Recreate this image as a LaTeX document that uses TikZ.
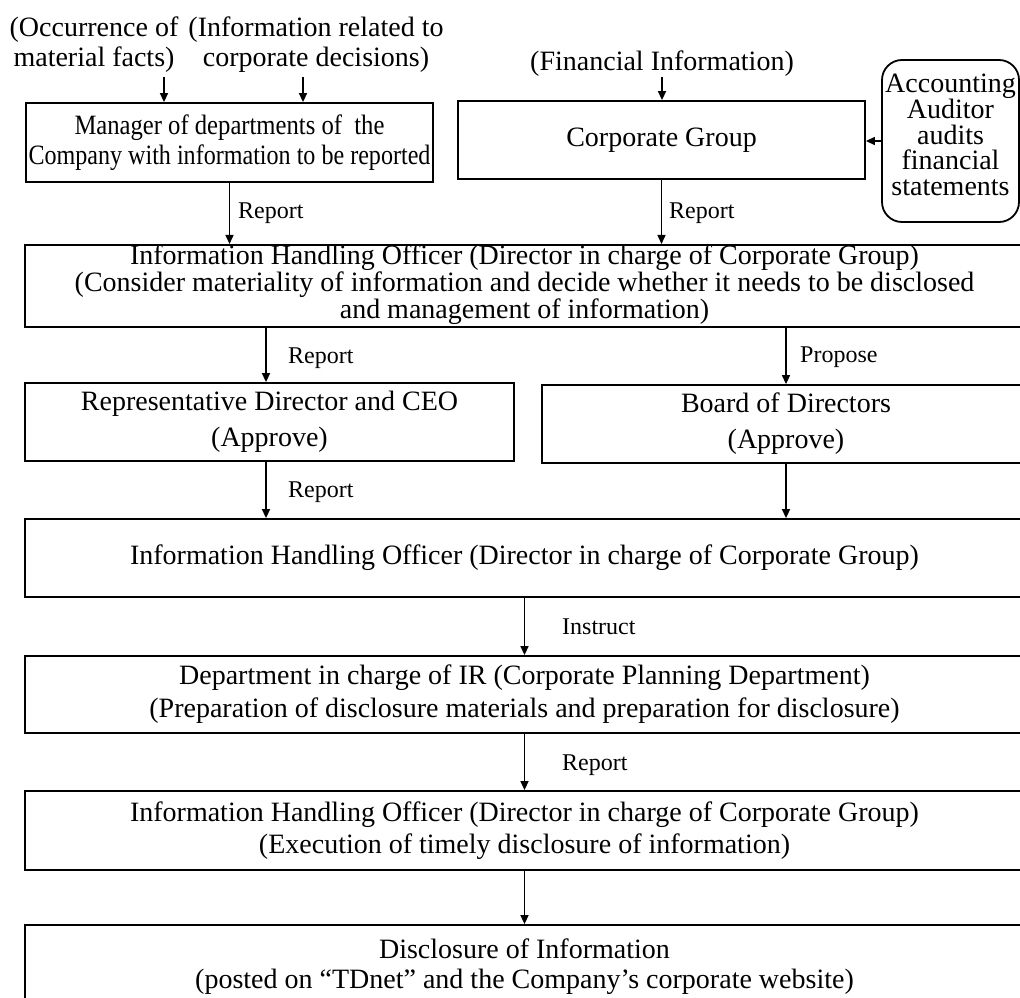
\documentclass[tikz,border=0pt]{standalone}
\usepackage{fontspec}
\setmainfont{Liberation Serif}
\usepackage{graphicx}
\usetikzlibrary{arrows.meta}
\tikzset{
  bx/.style={draw, line width=1.8pt, inner sep=0pt, align=center, font=\fontsize{28}{30}\selectfont},
  arr/.style={line width=1.5pt, -{Triangle[length=9pt,width=8pt]}},
  lbl/.style={font=\fontsize{24}{26}\selectfont, inner sep=0pt, anchor=west},
  txt/.style={align=center, inner sep=0pt, font=\fontsize{28}{30}\selectfont},
}
\begin{document}
\begin{tikzpicture}[x=1pt,y=-1pt]
\useasboundingbox (0,0) rectangle (1020,998);
\clip (0,0) rectangle (1020,998);
% top texts
\node[txt] (occ) at (94,45) {(Occurrence of\\material facts)};
\node[txt] (inf) at (316,45) {(Information related to\\corporate decisions)};
\node[txt] (fin) at (662,64) {(Financial Information)};
\coordinate (a1) at (164,77);
\coordinate (a2) at (303,77);
\coordinate (c3) at (266,0);
% boxes
\node[bx, minimum width=407pt, minimum height=79pt] (mgr) at (229.5,142.5)
  {\scalebox{0.88}[1]{Manager of departments of\ \ the}\\\scalebox{0.86}[1]{Company with information to be reported}};
\node[bx, minimum width=407pt, minimum height=78pt] (corp) at (661.5,140) {Corporate Group};
\node[bx, rounded corners=20pt, minimum width=137pt, minimum height=162pt,
      font=\fontsize{28}{25.7}\selectfont] (acct) at (950.5,141)
  {Accounting\\Auditor\\audits\\financial\\statements\rule[-12pt]{0pt}{0pt}};
\node[bx, minimum width=999pt, minimum height=78pt, font=\fontsize{28}{23.5}\selectfont] (iho1) at (524.5,286)
  {Information Handling Officer (Director in charge of Corporate Group)\\
   (Consider materiality of information and decide whether it needs to be disclosed\\
   and management of information)\rule[-9pt]{0pt}{0pt}};
\node[bx, minimum width=489pt, minimum height=78pt, font=\fontsize{28}{36}\selectfont] (rep) at (269.5,422)
  {Representative Director and CEO\\(Approve)};
\node[bx, minimum width=488pt, minimum height=78pt, font=\fontsize{28}{36}\selectfont] (board) at (786,424)
  {Board of Directors\\(Approve)};
\node[bx, minimum width=999pt, minimum height=78pt] (iho2) at (524.5,558)
  {Information Handling Officer (Director in charge of Corporate Group)};
\node[bx, minimum width=999pt, minimum height=77pt, font=\fontsize{28}{33}\selectfont] (dept) at (524.5,694.5)
  {Department in charge of IR (Corporate Planning Department)\\
   (Preparation of disclosure materials and preparation for disclosure)};
\node[bx, minimum width=999pt, minimum height=79pt, font=\fontsize{28}{32}\selectfont] (iho3) at (524.5,830.5)
  {Information Handling Officer (Director in charge of Corporate Group)\\
   (Execution of timely disclosure of information)};
\node[bx, minimum width=999pt, minimum height=84pt] (disc) at (524.5,967)
  {Disclosure of Information\\
   (posted on “TDnet” and the Company’s corporate website)};
% labels
\node[lbl] (r1) at (238,213) {Report};
\node[lbl] (r2) at (669,213) {Report};
\node[lbl] (r3) at (288,358) {Report};
\node[lbl] (p1) at (800,357) {Propose};
\node[lbl] (r4) at (288,492) {Report};
\node[lbl] (ins) at (562,627) {Instruct};
\node[lbl] (r5) at (562,765) {Report};
% connectors
\draw[arr] (a1) -- (a1 |- mgr.north);
\draw[arr] (a2) -- (a2 |- mgr.north);
\draw[arr] (fin.south) -- (fin.south |- corp.north);
\draw[arr] (acct.west) -- (acct.west -| corp.east);
\draw[arr] (mgr.south) -- (mgr.south |- iho1.north);
\draw[arr] (corp.south) -- (corp.south |- iho1.north);
\draw[arr] (iho1.south -| c3) -- (rep.north -| c3);
\draw[arr] (iho1.south -| board.north) -- (board.north);
\draw[arr] (rep.south -| c3) -- (iho2.north -| c3);
\draw[arr] (board.south) -- (board.south |- iho2.north);
\draw[arr] (iho2.south) -- (dept.north);
\draw[arr] (dept.south) -- (iho3.north);
\draw[arr] (iho3.south) -- (disc.north);
\end{tikzpicture}
\end{document}
